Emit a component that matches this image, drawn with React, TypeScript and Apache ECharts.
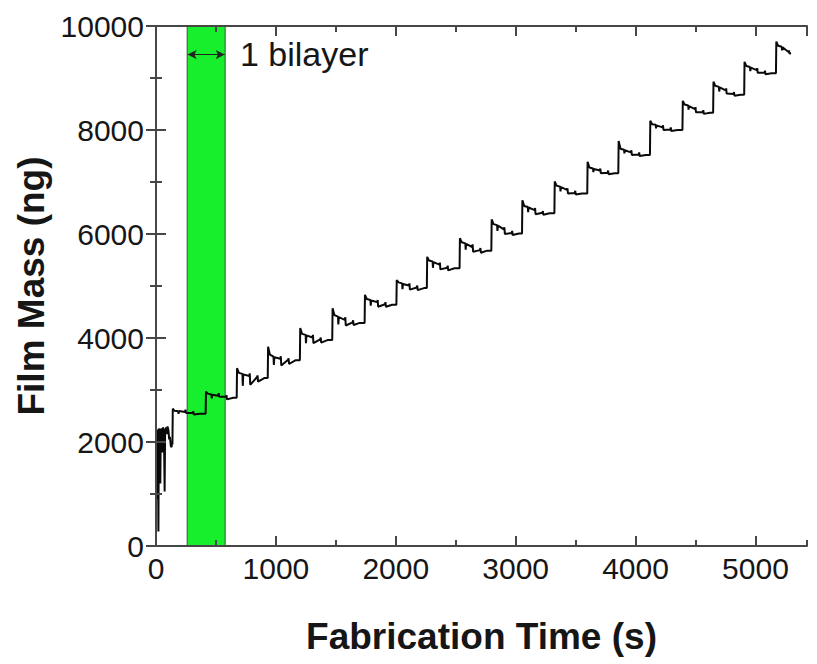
import React, { useEffect, useRef } from "react";
import * as echarts from "echarts";

const FONT = '"Liberation Sans", Arial, Helvetica, sans-serif';

// axis ranges / ticks
const X_RANGE = [0, 5430];
const X_MAJOR = 1000;
const X_MINOR = 500;
const Y_RANGE = [0, 10000];
const Y_MAJOR = 2000;

// green "1 bilayer" band (s) and arrow height (ng)
const BILAYER_BAND = [260, 577];
const ARROW_MASS = 9450;
const BAND_LABEL = "1 bilayer";

// start-up transient (time s, mass ng)
const STARTUP_TRACE: [number, number][] = [
  [0, 1950], [4, 2250], [8, 900], [12, 2230], [16, 2180], [20, 280], [24, 2260],
  [30, 2200], [36, 1200], [40, 2250], [48, 2240], [54, 1800], [58, 2280], [66, 2230],
  [72, 1050], [76, 2200], [84, 2280], [92, 2150], [96, 2300], [104, 2220], [110, 2050],
  [116, 2100], [124, 1920], [130, 1900], [134, 2000],
];

// deposition steps: start time of each step (s)
const CYCLE_START_S = [
  137, 414, 673, 932, 1200, 1470, 1740, 2005, 2259, 2532,
  2797, 3053, 3323, 3597, 3856, 4120, 4391, 4647, 4906, 5171,
];
// sample times inside a step, relative to its start (s)
const SAMPLE_OFFSET_S = [0, 3, 18, 48, 51, 55, 105, 109, 113, 170, 174, 178, 230];
// mass read at those samples (ng)
const CYCLE_MASS_NG = [
  [1950, 2640, 2600, 2590, 2540, 2595, 2575, 2620, 2560, 2560, 2590, 2530, 2545],
  [2545, 2970, 2930, 2915, 2840, 2910, 2890, 2940, 2870, 2870, 2900, 2820, 2850],
  [2850, 3420, 3330, 3310, 3080, 3300, 3270, 3320, 3100, 3250, 3280, 3160, 3230],
  [3230, 3830, 3680, 3640, 3480, 3630, 3600, 3650, 3470, 3580, 3610, 3500, 3570],
  [3570, 4190, 4080, 4060, 3900, 4050, 4010, 4060, 3900, 3975, 4010, 3910, 3960],
  [3960, 4570, 4440, 4410, 4260, 4400, 4350, 4400, 4240, 4300, 4340, 4250, 4290],
  [4290, 4830, 4750, 4730, 4620, 4720, 4690, 4730, 4600, 4650, 4690, 4600, 4640],
  [4640, 5115, 5070, 5050, 4940, 5040, 5010, 5050, 4930, 4970, 5010, 4920, 4960],
  [4960, 5560, 5490, 5470, 5350, 5460, 5410, 5450, 5320, 5350, 5390, 5300, 5340],
  [5340, 5920, 5840, 5820, 5700, 5810, 5750, 5800, 5660, 5690, 5730, 5640, 5680],
  [5680, 6280, 6190, 6170, 6060, 6160, 6090, 6130, 6000, 6020, 6060, 5980, 6010],
  [6010, 6650, 6540, 6520, 6420, 6510, 6460, 6500, 6380, 6410, 6440, 6370, 6400],
  [6400, 7010, 6930, 6910, 6820, 6900, 6850, 6880, 6780, 6790, 6830, 6760, 6780],
  [6780, 7390, 7280, 7260, 7190, 7250, 7220, 7260, 7170, 7180, 7220, 7150, 7170],
  [7170, 7790, 7640, 7620, 7550, 7610, 7570, 7610, 7520, 7530, 7570, 7500, 7520],
  [7520, 8180, 8110, 8100, 8030, 8090, 8050, 8090, 8000, 8010, 8050, 7980, 8000],
  [8000, 8560, 8490, 8470, 8390, 8460, 8400, 8440, 8340, 8340, 8380, 8310, 8330],
  [8330, 8930, 8850, 8830, 8740, 8820, 8760, 8800, 8700, 8690, 8730, 8660, 8680],
  [8680, 9310, 9230, 9210, 9130, 9200, 9150, 9190, 9100, 9100, 9140, 9070, 9090],
  [9090, 9700, 9620, 9600, 9530, 9590, 9500, 9530, 9470],
];
const FINAL_POINT: [number, number] = [5297, 9475];

const X_NAME = "Fabrication Time (s)";
const Y_NAME = "Film Mass (ng)";

const AXIS_COLOR = "#474747";
const TEXT_COLOR = "#161616";

function buildTrace(): [number, number][] {
  const out: [number, number][] = STARTUP_TRACE.map((p) => [p[0], p[1]]);
  CYCLE_START_S.forEach((t0, i) => {
    CYCLE_MASS_NG[i].forEach((v, j) => out.push([t0 + SAMPLE_OFFSET_S[j], v]));
  });
  out.push(FINAL_POINT);
  return out;
}

const plain = (v: number) => String(v);

export default function App() {
  const ref = useRef<HTMLDivElement>(null);

  useEffect(() => {
    if (!ref.current) return;
    const chart = echarts.init(ref.current, null, { renderer: "svg" });

    const lineStyle = { color: AXIS_COLOR, width: 2 };
    const baseX = {
      type: "value",
      min: X_RANGE[0],
      max: X_RANGE[1],
      splitLine: { show: false },
      z: 5,
    };
    const baseY = {
      type: "value",
      min: Y_RANGE[0],
      max: Y_RANGE[1],
      interval: Y_MAJOR,
      splitLine: { show: false },
      z: 5,
    };

    chart.setOption({
      animation: false,
      backgroundColor: "#ffffff",
      grid: { left: 156, right: 10, top: 26, bottom: 118, containLabel: false },
      xAxis: [
        {
          ...baseX,
          position: "bottom",
          interval: X_MAJOR,
          axisLine: { show: true, lineStyle },
          axisTick: { show: true, inside: true, length: 10, lineStyle },
          axisLabel: {
            show: true,
            fontSize: 30,
            fontFamily: FONT,
            color: TEXT_COLOR,
            margin: 7,
            showMaxLabel: false,
            formatter: plain,
          },
          name: X_NAME,
          nameLocation: "middle",
          nameGap: 72,
          nameTextStyle: { fontSize: 37, fontWeight: "bold", fontFamily: FONT, color: TEXT_COLOR },
        },
        {
          ...baseX,
          position: "bottom",
          interval: X_MINOR,
          axisLine: { show: false },
          axisTick: { show: true, inside: true, length: 6, lineStyle },
          axisLabel: { show: false },
        },
        {
          ...baseX,
          position: "top",
          interval: X_MAJOR,
          axisLine: { show: true, lineStyle },
          axisTick: { show: true, inside: true, length: 10, lineStyle },
          axisLabel: { show: false },
        },
        {
          ...baseX,
          position: "top",
          interval: X_MINOR,
          axisLine: { show: false },
          axisTick: { show: true, inside: true, length: 6, lineStyle },
          axisLabel: { show: false },
        },
      ],
      yAxis: [
        {
          ...baseY,
          position: "left",
          axisLine: { show: true, lineStyle },
          axisTick: { show: true, inside: true, length: 10, lineStyle },
          minorTick: { show: true, splitNumber: 2, length: 6, lineStyle },
          axisLabel: {
            show: true,
            fontSize: 30,
            fontFamily: FONT,
            color: TEXT_COLOR,
            margin: 12,
            formatter: plain,
          },
          name: Y_NAME,
          nameLocation: "middle",
          nameGap: 102,
          nameTextStyle: { fontSize: 37, fontWeight: "bold", fontFamily: FONT, color: TEXT_COLOR },
        },
        {
          ...baseY,
          position: "right",
          axisLine: { show: true, lineStyle },
          axisTick: { show: true, inside: true, length: 10, lineStyle },
          minorTick: { show: true, splitNumber: 2, length: 6, lineStyle },
          axisLabel: { show: false },
        },
      ],
      series: [
        {
          type: "line",
          xAxisIndex: 0,
          yAxisIndex: 0,
          data: buildTrace(),
          showSymbol: false,
          symbol: "none",
          lineStyle: { color: "#0a0a0a", width: 2 },
          z: 3,
          markArea: {
            silent: true,
            itemStyle: { color: "#17ee2c", borderColor: "#4a4a4a", borderWidth: 1 },
            data: [[{ xAxis: BILAYER_BAND[0] }, { xAxis: BILAYER_BAND[1] }]],
          },
          markLine: {
            silent: true,
            symbol: ["arrow", "arrow"],
            symbolSize: [7, 9],
            label: { show: false },
            lineStyle: { color: "#222222", width: 1, type: "solid" },
            data: [
              [
                { coord: [BILAYER_BAND[0] + 4, ARROW_MASS] },
                { coord: [BILAYER_BAND[1] - 4, ARROW_MASS] },
              ],
            ],
          },
        },
      ],
      graphic: [
        {
          type: "text",
          left: 240,
          top: 37,
          style: { text: BAND_LABEL, font: `34px ${FONT}`, fill: TEXT_COLOR },
        },
      ],
    });

    return () => chart.dispose();
  }, []);

  return (
    <div
      ref={ref}
      style={{ position: "fixed", left: 0, top: 0, width: 817, height: 664, background: "#fff" }}
    />
  );
}
